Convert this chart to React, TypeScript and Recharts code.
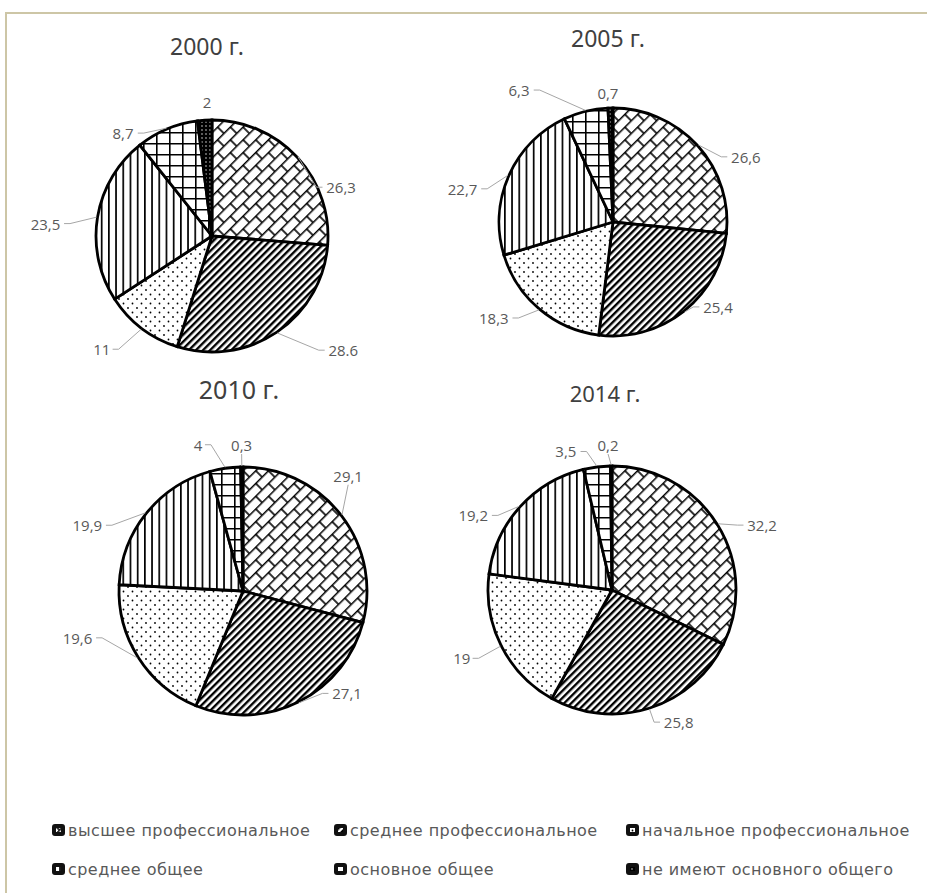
import React from "react";
import { PieChart, Pie, Cell } from "recharts";

const categories = [
  "высшее профессиональное",
  "среднее профессиональное",
  "начальное профессиональное",
  "среднее общее",
  "основное общее",
  "не имеют основного общего",
];

const years = ["2000 г.", "2005 г.", "2010 г.", "2014 г."];

const values2000 = [26.3, 28.6, 11, 23.5, 8.7, 2];
const values2005 = [26.6, 25.4, 18.3, 22.7, 6.3, 0.7];
const values2010 = [29.1, 27.1, 19.6, 19.9, 4, 0.3];
const values2014 = [32.2, 25.8, 19, 19.2, 3.5, 0.2];

const labels2000 = ["26,3", "28.6", "11", "23,5", "8,7", "2"];
const labels2005 = ["26,6", "25,4", "18,3", "22,7", "6,3", "0,7"];
const labels2010 = ["29,1", "27,1", "19,6", "19,9", "4", "0,3"];
const labels2014 = ["32,2", "25,8", "19", "19,2", "3,5", "0,2"];

// layout: pie centre/radius, title, label nudges [extra radius, angle shift]
const layout = [
  {
    cx: 207, cy: 231, r: 116, tx: 207, ty: 46, ts: 23,
    shifts: [[22, -22], [58, 15], [42, -7], [51, 5], [20, 18], [18, -1.5]],
  },
  {
    cx: 608, cy: 217, r: 114, tx: 608, ty: 38, ts: 23,
    shifts: [[34, -16], [21, 12.5], [39, -11], [40, 11.5], [48, 21.6], [15, 1]],
  },
  {
    cx: 238, cy: 586, r: 124, tx: 239, ty: 389, ts: 25,
    shifts: [[32, 10], [22, 19], [48, -16.6], [45, 15.8], [29, 8.8], [22, 0]],
  },
  {
    cx: 607, cy: 585, r: 124, tx: 605, ty: 393, ts: 22,
    shifts: [[39.5, -8.6], [24, 9.3], [41, -2.3], [33.5, 13.8], [22, 11.4], [21, 1.2]],
  },
];

const series = [values2000, values2005, values2010, values2014];
const labelTexts = [labels2000, labels2005, labels2010, labels2014];

const RAD = Math.PI / 180;

const makeLabel = (texts: string[], shifts: number[][]) => (p: any) => {
  const { cx, cy, midAngle, outerRadius, index } = p;
  const [dr, da] = shifts[index];
  const a = (midAngle + da) * RAD;
  const lx = cx + (outerRadius + dr) * Math.cos(a);
  const ly = cy - (outerRadius + dr) * Math.sin(a);
  const m = midAngle * RAD;
  const ex = cx + (outerRadius + 1) * Math.cos(m);
  const ey = cy - (outerRadius + 1) * Math.sin(m);
  const text = texts[index];
  const tw = text.length * 7.8;
  let pts = "";
  if (Math.abs(lx - ex) < tw / 2 + 2) {
    const ay = ly + 9;
    if (Math.hypot(lx - ex, ay - ey) > 9) pts = `${ex},${ey} ${lx},${ay}`;
  } else {
    const dir = lx > ex ? -1 : 1;
    const ax = lx + dir * (tw / 2 + 3);
    const bx = ax + dir * 6;
    if (Math.hypot(bx - ex, ly - ey) > 9) pts = `${ex},${ey} ${bx},${ly} ${ax},${ly}`;
  }
  return (
    <g key={`l-${index}`}>
      {pts && <polyline points={pts} fill="none" stroke="#a6a6a6" strokeWidth={1} />}
      <text
        x={lx}
        y={ly}
        textAnchor="middle"
        dominantBaseline="central"
        fontSize={15}
        fill="#595959"
        fontFamily="'Open Sans', sans-serif"
      >
        {text}
      </text>
    </g>
  );
};

function Patterns() {
  return (
    <defs>
      <pattern id="p0" width="18" height="18" patternUnits="userSpaceOnUse" patternTransform="rotate(-45)">
        <rect width="18" height="18" fill="#fff" />
        <path d="M0 0.8H18M0 9.8H18M1 0V9.8M10 9.8V18" stroke="#000" strokeWidth="1.6" />
      </pattern>
      <pattern id="p1" width="5" height="5" patternUnits="userSpaceOnUse" patternTransform="rotate(45)">
        <rect width="5" height="5" fill="#fff" />
        <rect width="2.4" height="5" fill="#000" />
      </pattern>
      <pattern id="p2" width="9" height="9" patternUnits="userSpaceOnUse">
        <rect width="9" height="9" fill="#fff" />
        <circle cx="2" cy="2" r="0.9" fill="#000" />
        <circle cx="6.5" cy="6.5" r="0.9" fill="#000" />
      </pattern>
      <pattern id="p3" width="7.2" height="8" patternUnits="userSpaceOnUse">
        <rect width="7.2" height="8" fill="#fff" />
        <rect x="0" width="1.7" height="8" fill="#000" />
      </pattern>
      <pattern id="p4" width="13" height="11" patternUnits="userSpaceOnUse">
        <rect width="13" height="11" fill="#fff" />
        <path d="M0.8 0V11M0 0.8H13" stroke="#000" strokeWidth="1.6" />
      </pattern>
      <pattern id="p5" width="4" height="4" patternUnits="userSpaceOnUse">
        <rect width="4" height="4" fill="#000" />
        <circle cx="2" cy="2" r="0.7" fill="#fff" />
      </pattern>
    </defs>
  );
}

const legendCols = [52, 334, 626];
const legendRows = [830, 869];

function LegendIcon({ i }: { i: number }) {
  return (
    <svg width={13} height={12} style={{ display: "block" }}>
      <rect x={2} y={2} width={9} height={8} rx={1} fill={`url(#p${i})`} stroke="#111" strokeWidth={4} />
    </svg>
  );
}

export default function App() {
  return (
    <div style={{ position: "absolute", left: 0, top: 0, width: 927, height: 893, background: "#fff", overflow: "hidden" }}>
      <div style={{ position: "absolute", left: 5, top: 12, right: 0, height: 0, borderTop: "2px solid #cdc6a6" }} />
      <div style={{ position: "absolute", left: 5, top: 12, bottom: 0, width: 0, borderLeft: "2px solid #cdc6a6" }} />
      <div style={{ position: "absolute", left: 0, top: 0 }}>
        <PieChart width={927} height={800}>
          <Patterns />
          {series.map((vals, k) => {
            const L = layout[k];
            const data = categories.map((name, i) => ({ name, value: vals[i] }));
            return (
              <Pie
                key={years[k]}
                data={data}
                dataKey="value"
                nameKey="name"
                cx={L.cx}
                cy={L.cy}
                outerRadius={L.r}
                innerRadius={0}
                startAngle={90}
                endAngle={-270}
                stroke="#000"
                strokeWidth={2.8}
                label={makeLabel(labelTexts[k], L.shifts)}
                labelLine={false}
                isAnimationActive={false}
              >
                {data.map((d, i) => (
                  <Cell key={d.name} fill={`url(#p${i})`} />
                ))}
              </Pie>
            );
          })}
        </PieChart>
      </div>
      {years.map((y, k) => (
        <div
          key={y}
          style={{
            position: "absolute",
            left: layout[k].tx - 100,
            width: 200,
            top: layout[k].ty - layout[k].ts * 0.7,
            textAlign: "center",
            fontFamily: "'Noto Sans', sans-serif",
            fontSize: layout[k].ts,
            lineHeight: `${layout[k].ts * 1.4}px`,
            color: "#404040",
          }}
        >
          {y}
        </div>
      ))}
      {categories.map((c, i) => (
        <div
          key={c}
          style={{
            position: "absolute",
            left: legendCols[i % 3],
            top: legendRows[Math.floor(i / 3)] - 10,
            height: 20,
            display: "flex",
            alignItems: "center",
            fontFamily: "'DejaVu Sans', sans-serif",
            fontSize: 16,
            letterSpacing: 0.45,
            color: "#595959",
            whiteSpace: "nowrap",
          }}
        >
          <LegendIcon i={i} />
          <span style={{ marginLeft: 3 }}>{c}</span>
        </div>
      ))}
    </div>
  );
}
